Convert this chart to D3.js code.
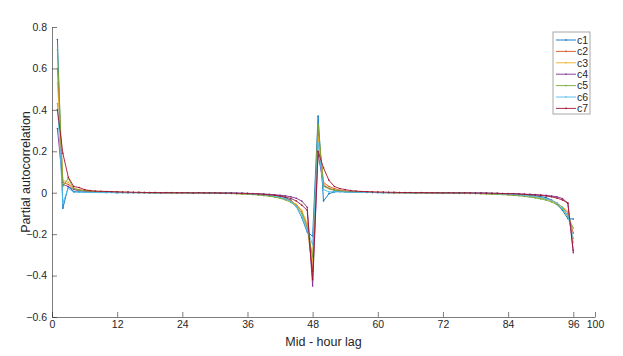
<!DOCTYPE html>
<html>
<head>
<meta charset="utf-8">
<script src="https://cdn.jsdelivr.net/npm/d3@7"></script>
<style>
  body { margin: 0; background: #fff; }
  text { font-family: "Liberation Sans", Helvetica, Arial, sans-serif; }
</style>
</head>
<body>
<div id="chart"></div>
<script>
// lags 1..96
const c1 = [0.74, -0.075, 0.03, 0.005, 0.004, 0.003, 0.002, 0.002,
  0.001, 0.001, 0.001, 0.000, 0.001, 0.000, 0.000, 0.001,
  0.000, 0.000, -0.001, 0.000, 0.000, 0.001, 0.000, 0.000,
  0.000, -0.001, 0.000, 0.000, -0.001, -0.001, -0.001, -0.002,
  -0.002, -0.003, -0.003, -0.004, -0.005, -0.007, -0.009, -0.011,
  -0.014, -0.018, -0.024, -0.036, -0.065, -0.12, -0.19, -0.21,
  0.37, -0.04, -0.005, 0.004, 0.006, 0.004, 0.003, 0.002,
  0.002, 0.001, 0.001, 0.001, 0.000, 0.001, 0.000, 0.000,
  0.000, 0.000, -0.001, 0.000, 0.000, 0.000, -0.001, 0.000,
  -0.001, -0.001, -0.001, -0.001, -0.002, -0.002, -0.002, -0.003,
  -0.003, -0.004, -0.005, -0.006, -0.007, -0.009, -0.011, -0.013,
  -0.016, -0.019, -0.024, -0.035, -0.055, -0.085, -0.125, -0.127];

const c2 = [0.60, 0.05, 0.04, 0.02, 0.015, 0.01, 0.008, 0.006,
  0.005, 0.004, 0.003, 0.003, 0.002, 0.002, 0.001, 0.001,
  0.001, 0.000, 0.001, 0.000, 0.000, 0.000, -0.001, 0.000,
  0.000, -0.001, -0.001, -0.001, -0.002, -0.002, -0.002, -0.003,
  -0.003, -0.004, -0.005, -0.006, -0.007, -0.009, -0.011, -0.014,
  -0.018, -0.023, -0.03, -0.04, -0.058, -0.09, -0.16, -0.38,
  0.30, 0.05, 0.03, 0.02, 0.012, 0.008, 0.006, 0.004,
  0.003, 0.003, 0.002, 0.002, 0.001, 0.001, 0.001, 0.000,
  0.000, 0.000, 0.000, -0.001, 0.000, -0.001, -0.001, -0.001,
  -0.001, -0.002, -0.002, -0.002, -0.003, -0.003, -0.004, -0.004,
  -0.005, -0.006, -0.007, -0.008, -0.01, -0.012, -0.014, -0.017,
  -0.02, -0.024, -0.03, -0.037, -0.05, -0.07, -0.1, -0.195];

const c3 = [0.53, 0.06, 0.05, 0.02, 0.012, 0.01, 0.007, 0.005,
  0.004, 0.003, 0.003, 0.002, 0.002, 0.001, 0.001, 0.001,
  0.000, 0.001, 0.000, 0.000, 0.000, -0.001, 0.000, 0.000,
  -0.001, -0.001, -0.001, -0.001, -0.002, -0.002, -0.003, -0.003,
  -0.004, -0.004, -0.005, -0.006, -0.008, -0.01, -0.012, -0.015,
  -0.019, -0.024, -0.031, -0.042, -0.056, -0.085, -0.15, -0.33,
  0.27, 0.045, 0.02, 0.015, 0.01, 0.007, 0.005, 0.004,
  0.003, 0.002, 0.002, 0.001, 0.001, 0.001, 0.000, 0.000,
  0.000, 0.000, -0.001, 0.000, -0.001, -0.001, -0.001, -0.001,
  -0.002, -0.002, -0.002, -0.003, -0.003, -0.004, -0.004, -0.005,
  -0.006, -0.007, -0.008, -0.009, -0.011, -0.013, -0.015, -0.018,
  -0.021, -0.025, -0.031, -0.039, -0.052, -0.068, -0.09, -0.24];

const c4 = [0.31, 0.04, 0.03, 0.015, 0.01, 0.008, 0.006, 0.004,
  0.003, 0.003, 0.002, 0.002, 0.001, 0.001, 0.001, 0.000,
  0.001, 0.000, 0.000, 0.000, -0.001, 0.000, 0.000, 0.000,
  0.000, -0.001, 0.000, -0.001, -0.001, -0.001, -0.001, -0.002,
  -0.002, -0.002, -0.003, -0.003, -0.004, -0.005, -0.006, -0.008,
  -0.01, -0.012, -0.015, -0.02, -0.027, -0.04, -0.07, -0.45,
  0.19, 0.035, 0.02, 0.012, 0.008, 0.006, 0.004, 0.003,
  0.002, 0.002, 0.001, 0.001, 0.001, 0.000, 0.000, 0.001,
  0.000, 0.000, 0.000, 0.000, -0.001, 0.000, 0.000, -0.001,
  -0.001, -0.001, -0.001, -0.001, -0.002, -0.002, -0.002, -0.002,
  -0.003, -0.003, -0.004, -0.004, -0.005, -0.006, -0.007, -0.008,
  -0.009, -0.011, -0.013, -0.016, -0.02, -0.028, -0.05, -0.29];

const c5 = [0.69, 0.03, 0.07, 0.02, 0.012, 0.01, 0.006, 0.004,
  0.004, 0.003, 0.002, 0.002, 0.001, 0.001, 0.001, 0.000,
  0.001, 0.000, 0.000, 0.000, 0.000, -0.001, 0.000, -0.001,
  -0.001, -0.001, -0.001, -0.002, -0.002, -0.003, -0.003, -0.004,
  -0.004, -0.005, -0.006, -0.007, -0.009, -0.011, -0.014, -0.017,
  -0.021, -0.027, -0.035, -0.047, -0.065, -0.1, -0.17, -0.31,
  0.33, 0.03, 0.02, 0.012, 0.008, 0.005, 0.004, 0.003,
  0.002, 0.002, 0.001, 0.001, 0.001, 0.000, 0.000, 0.000,
  0.000, -0.001, 0.000, -0.001, -0.001, -0.001, -0.001, -0.002,
  -0.002, -0.002, -0.003, -0.003, -0.004, -0.004, -0.005, -0.006,
  -0.007, -0.008, -0.009, -0.011, -0.013, -0.015, -0.018, -0.021,
  -0.025, -0.03, -0.036, -0.045, -0.058, -0.078, -0.115, -0.17];

const c6 = [0.43, -0.05, 0.022, 0.002, 0.003, 0.002, 0.001, 0.001,
  0.001, 0.000, 0.001, 0.000, 0.000, 0.000, 0.001, 0.000,
  0.000, 0.000, 0.000, -0.001, 0.000, 0.000, 0.000, 0.000,
  -0.001, 0.000, -0.001, -0.001, -0.001, -0.002, -0.002, -0.002,
  -0.003, -0.003, -0.004, -0.005, -0.006, -0.008, -0.01, -0.013,
  -0.017, -0.022, -0.03, -0.043, -0.068, -0.115, -0.18, -0.25,
  0.24, 0.015, 0.004, 0.006, 0.004, 0.003, 0.002, 0.002,
  0.001, 0.001, 0.001, 0.000, 0.000, 0.000, 0.001, 0.000,
  0.000, -0.001, 0.000, 0.000, -0.001, 0.000, -0.001, -0.001,
  -0.001, -0.001, -0.002, -0.002, -0.002, -0.003, -0.003, -0.004,
  -0.004, -0.005, -0.006, -0.007, -0.009, -0.011, -0.013, -0.016,
  -0.019, -0.023, -0.029, -0.037, -0.05, -0.072, -0.11, -0.22];

const c7 = [0.40, 0.19, 0.075, 0.03, 0.025, 0.015, 0.01, 0.008,
  0.007, 0.006, 0.005, 0.004, 0.003, 0.003, 0.002, 0.002,
  0.001, 0.001, 0.001, 0.000, 0.001, 0.000, 0.000, 0.000,
  0.000, -0.001, 0.000, -0.001, -0.001, -0.001, -0.002, -0.002,
  -0.002, -0.003, -0.003, -0.004, -0.005, -0.006, -0.008, -0.01,
  -0.012, -0.016, -0.021, -0.028, -0.04, -0.06, -0.085, -0.42,
  0.20, 0.12, 0.06, 0.03, 0.02, 0.015, 0.01, 0.008,
  0.006, 0.005, 0.004, 0.003, 0.003, 0.002, 0.002, 0.001,
  0.001, 0.001, 0.000, 0.001, 0.000, 0.000, 0.000, -0.001,
  0.000, -0.001, -0.001, -0.001, -0.001, -0.002, -0.002, -0.002,
  -0.003, -0.003, -0.004, -0.005, -0.005, -0.006, -0.008, -0.009,
  -0.011, -0.013, -0.016, -0.02, -0.026, -0.035, -0.05, -0.28];

const seriesNames = ['c1', 'c2', 'c3', 'c4', 'c5', 'c6', 'c7'];
const seriesValues = [c1, c2, c3, c4, c5, c6, c7];
const colors = ['#0072BD', '#D95319', '#EDB120', '#7E2F8E', '#77AC30', '#4DBEEE', '#A2142F'];
const xTicks = [0, 12, 24, 36, 48, 60, 72, 84, 96, 100];
const yTicks = [-0.6, -0.4, -0.2, 0, 0.2, 0.4, 0.6, 0.8];

const width = 623, height = 356;
const margin = {left: 52, right: 28, top: 27, bottom: 39};

const svg = d3.select('#chart').append('svg')
  .attr('width', width)
  .attr('height', height);

const xScale = d3.scaleLinear().domain([0, 100]).range([margin.left, width - margin.right]);
const yScale = d3.scaleLinear().domain([-0.6, 0.8]).range([height - margin.bottom, margin.top]);

const axisColor = '#262626';

// x axis, ticks pointing inward
const xAxis = svg.append('g')
  .attr('transform', 'translate(0,' + yScale(-0.6) + ')')
  .call(d3.axisBottom(xScale).tickValues(xTicks).tickSizeInner(-5).tickSizeOuter(0)
    .tickFormat(d3.format('d')).tickPadding(4));
xAxis.select('.domain').attr('stroke', axisColor).attr('stroke-opacity', 0.6);
xAxis.selectAll('.tick line').attr('stroke', axisColor).attr('stroke-opacity', 0.6);
xAxis.selectAll('.tick text').attr('fill', axisColor).style('font-size', '10.5px');

const yAxis = svg.append('g')
  .attr('transform', 'translate(' + xScale(0) + ',0)')
  .call(d3.axisLeft(yScale).tickValues(yTicks).tickSizeInner(-5).tickSizeOuter(0)
    .tickFormat(d => d === 0 ? '0' : d3.format('.1f')(d)).tickPadding(5));
yAxis.select('.domain').attr('stroke', axisColor).attr('stroke-opacity', 0.6);
yAxis.selectAll('.tick line').attr('stroke', axisColor).attr('stroke-opacity', 0.6);
yAxis.selectAll('.tick text').attr('fill', axisColor).style('font-size', '10.5px');

svg.append('text')
  .attr('x', (xScale(0) + xScale(100)) / 2)
  .attr('y', 346)
  .attr('text-anchor', 'middle')
  .attr('fill', axisColor)
  .style('font-size', '12.5px')
  .text('Mid - hour lag');

svg.append('text')
  .attr('transform', 'translate(30,' + yScale(0.1) + ') rotate(-90)')
  .attr('text-anchor', 'middle')
  .attr('fill', axisColor)
  .style('font-size', '12.5px')
  .text('Partial autocorrelation');

const line = d3.line()
  .x((d, i) => xScale(i + 1))
  .y(d => yScale(d));

const plot = svg.append('g');
seriesValues.forEach(function(vals, k) {
  plot.append('path')
    .datum(vals)
    .attr('d', line)
    .attr('fill', 'none')
    .attr('stroke', colors[k])
    .attr('stroke-width', 0.9);
  plot.append('g').selectAll('circle')
    .data(vals)
    .join('circle')
    .attr('cx', (d, i) => xScale(i + 1))
    .attr('cy', d => yScale(d))
    .attr('r', 0.8)
    .attr('fill', colors[k]);
});

// legend
const legend = svg.append('g').attr('transform', 'translate(553,32)');
legend.append('rect')
  .attr('width', 37)
  .attr('height', 82)
  .attr('fill', '#fff')
  .attr('stroke', '#262626')
  .attr('stroke-opacity', 0.4)
  .attr('stroke-width', 1);

const items = legend.selectAll('.item')
  .data(seriesNames)
  .join('g')
  .attr('class', 'item')
  .attr('transform', (d, i) => 'translate(0,' + (8 + i * 11.4) + ')');
items.append('line')
  .attr('x1', 3).attr('x2', 23)
  .attr('stroke', (d, i) => colors[i])
  .attr('stroke-width', 0.9);
items.append('circle')
  .attr('cx', 13).attr('r', 0.8)
  .attr('fill', (d, i) => colors[i]);
items.append('text')
  .attr('x', 24)
  .attr('y', 3.8)
  .attr('fill', axisColor)
  .style('font-size', '10.5px')
  .text(d => d);
</script>
</body>
</html>
